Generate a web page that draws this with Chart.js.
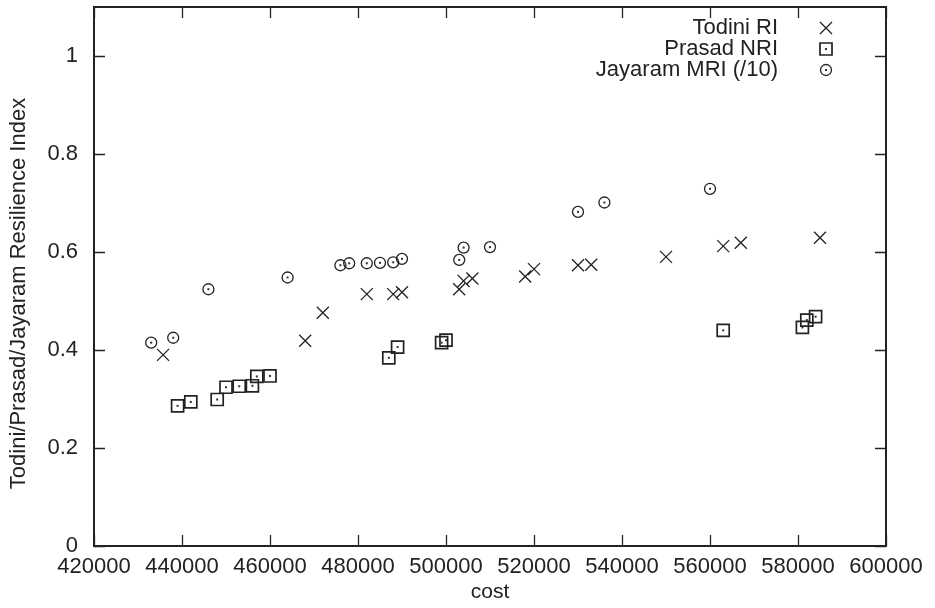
<!DOCTYPE html>
<html>
<head>
<meta charset="utf-8">
<script src="https://cdn.jsdelivr.net/npm/chart.js@4"></script>
<style>
  html, body { margin: 0; padding: 0; background: #fff; }
  #wrap { width: 935px; height: 608px; }
</style>
</head>
<body>
<div id="wrap"><canvas id="c" width="935" height="608"></canvas></div>
<script>
// Todini RI (x marks)
const todiniCost = [435700, 468000, 472000, 482000, 488000, 490000, 503000, 504000, 506000,
  518000, 520000, 530000, 533000, 550000, 563000, 567000, 585000]
const todiniRI = [0.390, 0.419, 0.476, 0.514, 0.514, 0.518, 0.524, 0.541, 0.546,
  0.550, 0.565, 0.573, 0.574, 0.590, 0.612, 0.619, 0.629]

// Prasad NRI (boxes)
const prasadCost = [439000, 442000, 448000, 450000, 453000, 456000, 457000, 460000,
  487000, 489000, 499000, 500000, 563000, 581000, 582000, 584000]
const prasadNRI = [0.286, 0.294, 0.299, 0.324, 0.326, 0.327, 0.346, 0.347,
  0.384, 0.406, 0.415, 0.420, 0.440, 0.446, 0.461, 0.468]

// Jayaram MRI divided by 10 (circles)
const jayaramCost = [433000, 438000, 446000, 464000, 476000, 478000, 482000, 485000, 488000,
  490000, 503000, 504000, 510000, 530000, 536000, 560000]
const jayaramMRI = [0.415, 0.425, 0.524, 0.548, 0.573, 0.577, 0.577, 0.578, 0.579,
  0.586, 0.584, 0.609, 0.610, 0.682, 0.701, 0.729]

const seriesNames = ['Todini RI', 'Prasad NRI', 'Jayaram MRI (/10)']
const yTitle = 'Todini/Prasad/Jayaram Resilience Index'

const INK = '#222'
const FONT = '"Liberation Sans", Arial, sans-serif'

function toPoints(xs, ys) {
  return xs.map(function (x, i) {
    return { x: x, y: ys[i] }
  })
}

// box around the plot + inward ticks on all four sides
const framePlugin = {
  id: 'frame',
  afterDraw(chart) {
    const ctx = chart.ctx
    const a = chart.chartArea
    const sx = chart.scales.x
    const sy = chart.scales.y
    const len = 11
    ctx.save()
    ctx.strokeStyle = INK
    ctx.lineWidth = 1.3
    ctx.beginPath()
    sx.ticks.forEach(function (t) {
      const px = Math.round(sx.getPixelForValue(t.value)) + 0.5
      ctx.moveTo(px, a.bottom); ctx.lineTo(px, a.bottom - len)
      ctx.moveTo(px, a.top); ctx.lineTo(px, a.top + len)
    })
    sy.ticks.forEach(function (t) {
      const py = Math.round(sy.getPixelForValue(t.value)) + 0.5
      ctx.moveTo(a.left, py); ctx.lineTo(a.left + len, py)
      ctx.moveTo(a.right, py); ctx.lineTo(a.right - len, py)
    })
    ctx.stroke()
    ctx.lineWidth = 2
    ctx.strokeRect(a.left, a.top, a.right - a.left, a.bottom - a.top)

    // y axis title, placed a bit below the plot centre like the original
    ctx.save()
    ctx.translate(19, (a.top + a.bottom) / 2 + 17)
    ctx.rotate(-Math.PI / 2)
    ctx.font = '22px ' + FONT
    ctx.fillStyle = INK
    ctx.textAlign = 'center'
    ctx.textBaseline = 'middle'
    ctx.fillText(yTitle, 0, 0)
    ctx.restore()
    ctx.restore()
  }
}

// the centre dot of the boxdot / circledot symbols
const dotPlugin = {
  id: 'dots',
  afterDatasetsDraw(chart) {
    const ctx = chart.ctx
    ctx.save()
    ctx.fillStyle = '#333'
    ;[1, 2].forEach(function (i) {
      chart.getDatasetMeta(i).data.forEach(function (el) {
        ctx.fillRect(el.x - 1, el.y - 1, 2, 2)
      })
    })
    ctx.restore()
  }
}

// gnuplot-like key: right aligned text, symbol on the right
const keyPlugin = {
  id: 'key',
  afterDraw(chart) {
    const ctx = chart.ctx
    const a = chart.chartArea
    const textX = a.right - 108
    const symX = a.right - 60
    const rowY = [a.top + 21, a.top + 42, a.top + 63]
    ctx.save()
    ctx.font = '22px ' + FONT
    ctx.textAlign = 'right'
    ctx.textBaseline = 'middle'
    chart.data.datasets.forEach(function (ds, i) {
      ctx.fillStyle = INK
      ctx.fillText(seriesNames[i], textX, rowY[i])
      ctx.strokeStyle = INK
      ctx.fillStyle = 'rgba(0,0,0,0)'
      ctx.lineWidth = ds.pointBorderWidth
      Chart.helpers.drawPoint(ctx, { pointStyle: ds.pointStyle, radius: ds.pointRadius, borderWidth: ds.pointBorderWidth }, symX, rowY[i])
      if (i > 0) {
        ctx.fillStyle = '#333'
        ctx.fillRect(symX - 1, rowY[i] - 1, 2, 2)
      }
    })
    ctx.restore()
  }
}

const config = {
  type: 'scatter',
  data: {
    datasets: [
      {
        label: seriesNames[0],
        data: toPoints(todiniCost, todiniRI),
        pointStyle: 'crossRot',
        pointRadius: 8.5,
        pointBorderWidth: 1.3,
        borderColor: INK,
        backgroundColor: 'rgba(0,0,0,0)'
      },
      {
        label: seriesNames[1],
        data: toPoints(prasadCost, prasadNRI),
        pointStyle: 'rect',
        pointRadius: 8.5,
        pointBorderWidth: 1.7,
        borderColor: INK,
        backgroundColor: 'rgba(0,0,0,0)'
      },
      {
        label: seriesNames[2],
        data: toPoints(jayaramCost, jayaramMRI),
        pointStyle: 'circle',
        pointRadius: 5.5,
        pointBorderWidth: 1.3,
        borderColor: INK,
        backgroundColor: 'rgba(0,0,0,0)'
      }
    ]
  },
  options: {
    responsive: false,
    animation: false,
    events: [],
    layout: {
      autoPadding: false,
      padding: { top: 7, right: 49, left: 0, bottom: 0 }
    },
    plugins: {
      legend: { display: false },
      tooltip: { enabled: false }
    },
    scales: {
      x: {
        type: 'linear',
        min: 420000,
        max: 600000,
        afterFit: function (s) {
          s.height = 62
          s.paddingLeft = 0
          s.paddingRight = 0
        },
        grid: { display: false, drawTicks: false },
        border: { display: false },
        ticks: {
          stepSize: 20000,
          padding: 8,
          color: INK,
          font: { family: FONT, size: 22 },
          maxRotation: 0,
          autoSkip: false,
          callback: function (v) { return String(v) }
        },
        title: {
          display: true,
          text: 'cost',
          color: INK,
          font: { family: FONT, size: 21 },
          padding: { top: 0, bottom: 3 }
        }
      },
      y: {
        type: 'linear',
        min: 0,
        max: 1.1,
        afterFit: function (s) {
          s.width = 94
          s.paddingTop = 0
          s.paddingBottom = 0
        },
        afterBuildTicks: function (s) {
          s.ticks = s.ticks.filter(function (t) { return t.value <= 1.0001 })
        },
        grid: { display: false, drawTicks: false },
        border: { display: false },
        ticks: {
          stepSize: 0.2,
          padding: 16,
          color: INK,
          font: { family: FONT, size: 22, lineHeight: 0.5 },
          callback: function (v) { return String(Math.round(v * 10) / 10) }
        },
        title: { display: false }
      }
    }
  },
  plugins: [framePlugin, dotPlugin, keyPlugin]
}

new Chart(document.getElementById('c'), config)
</script>
</body>
</html>
